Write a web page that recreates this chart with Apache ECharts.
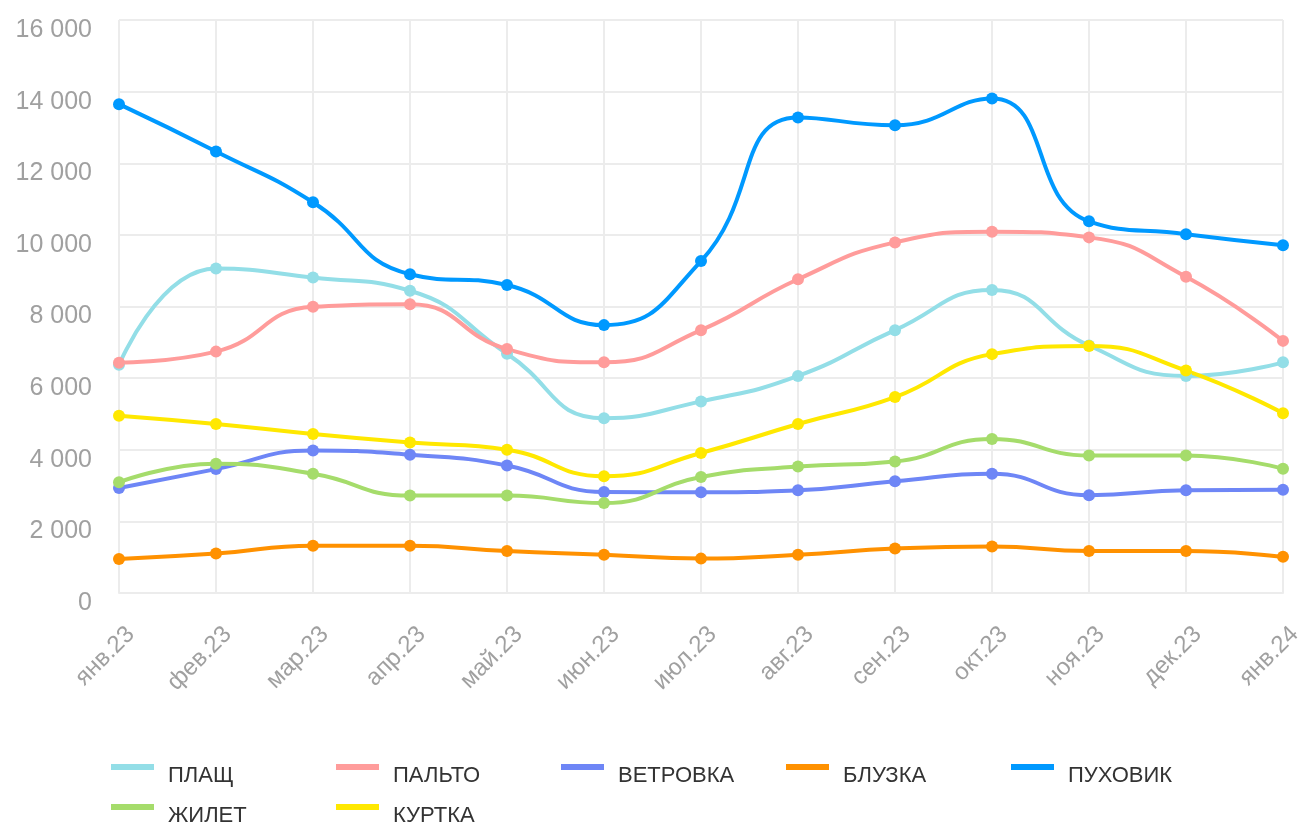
<!DOCTYPE html>
<html>
<head>
<meta charset="utf-8">
<script src="https://cdn.jsdelivr.net/npm/echarts@6/dist/echarts.min.js"></script>
<style>
  html, body { margin: 0; padding: 0; background: #fff; }
  #chart { width: 1300px; height: 825px; }
</style>
</head>
<body>
<div id="chart"></div>
<script>
const months = ['янв.23', 'фев.23', 'мар.23', 'апр.23', 'май.23', 'июн.23', 'июл.23',
  'авг.23', 'сен.23', 'окт.23', 'ноя.23', 'дек.23', 'янв.24']

const plashch = [6370, 9060, 8810, 8440, 6680, 4880, 5350, 6060, 7340, 8460, 6910, 6060, 6440]
const palto = [6430, 6740, 7990, 8060, 6810, 6440, 7340, 8760, 9790, 10090, 9930, 8830, 7040]
const vetrovka = [2930, 3460, 3980, 3860, 3560, 2820, 2810, 2870, 3120, 3330, 2730, 2870, 2880]
const bluzka = [950, 1100, 1320, 1320, 1170, 1070, 960, 1070, 1240, 1300, 1170, 1170, 1010]
const puhovik = [13650, 12330, 10910, 8900, 8600, 7480, 9270, 13280, 13060, 13810, 10380, 10020, 9710]
const zhilet = [3090, 3610, 3330, 2720, 2720, 2510, 3240, 3530, 3670, 4300, 3840, 3840, 3470]
const kurtka = [4950, 4720, 4440, 4200, 4000, 3260, 3910, 4720, 5470, 6670, 6900, 6210, 5020]

const yTicks = { min: 0, max: 16000, interval: 2000 }

const seriesList = [
  { name: 'ПЛАЩ', data: plashch, color: '#93dee7' },
  { name: 'ПАЛЬТО', data: palto, color: '#ff9c9b' },
  { name: 'ВЕТРОВКА', data: vetrovka, color: '#6e86f6' },
  { name: 'БЛУЗКА', data: bluzka, color: '#ff9100' },
  { name: 'ПУХОВИК', data: puhovik, color: '#0099ff' },
  { name: 'ЖИЛЕТ', data: zhilet, color: '#a5dc6b' },
  { name: 'КУРТКА', data: kurtka, color: '#ffe800' }
]

const chart = echarts.init(document.getElementById('chart'))

// "16000" -> "16 000"
const fmt = (v) => String(v).replace(/\B(?=(\d{3})+(?!\d))/g, ' ')

chart.setOption({
  animation: false,
  textStyle: { fontFamily: '"Liberation Sans", Arial, sans-serif' },
  grid: { left: 119, right: 17, top: 20, bottom: 232, containLabel: false, outerBoundsMode: 'none' },
  legend: {
    left: 111,
    top: 747,
    padding: 0,
    width: 1150,
    itemWidth: 43,
    itemHeight: 6,
    itemGap: 0,
    icon: 'rect',
    formatter: (name) => '{t|' + name + '}',
    textStyle: {
      rich: {
        t: {
          fontSize: 22,
          color: '#333',
          width: 168,
          lineHeight: 14,
          padding: [18, 0, 0, 9]
        }
      }
    },
    data: seriesList.map(s => ({ name: s.name, itemStyle: { color: s.color } }))
  },
  xAxis: {
    type: 'category',
    data: months,
    boundaryGap: false,
    axisLine: { lineStyle: { color: '#ececec', width: 2 } },
    axisTick: { show: false },
    splitLine: { show: true, lineStyle: { color: '#ececec', width: 2 } },
    axisLabel: {
      rotate: 45,
      margin: 26,
      interval: 0,
      formatter: (v) => '{m|' + v + '}',
      rich: {
        m: { fontSize: 24, color: '#a0a0a0', padding: [33, 0, 0, 0] }
      }
    }
  },
  yAxis: {
    type: 'value',
    min: yTicks.min,
    max: yTicks.max,
    interval: yTicks.interval,
    axisLine: { show: false },
    axisTick: { show: false },
    splitLine: { lineStyle: { color: '#ececec', width: 2 } },
    axisLabel: {
      margin: 27,
      formatter: (v) => '{v|' + fmt(v) + '}',
      rich: {
        v: { fontSize: 25, color: '#a0a0a0', padding: [20, 0, 0, 0] }
      }
    }
  },
  series: seriesList.map(s => ({
    name: s.name,
    type: 'line',
    data: s.data,
    smooth: true,
    symbol: 'circle',
    symbolSize: 12,
    lineStyle: { width: 4, color: s.color },
    itemStyle: { color: s.color }
  }))
})

window.addEventListener('resize', () => {
  chart.resize()
})
</script>
</body>
</html>
